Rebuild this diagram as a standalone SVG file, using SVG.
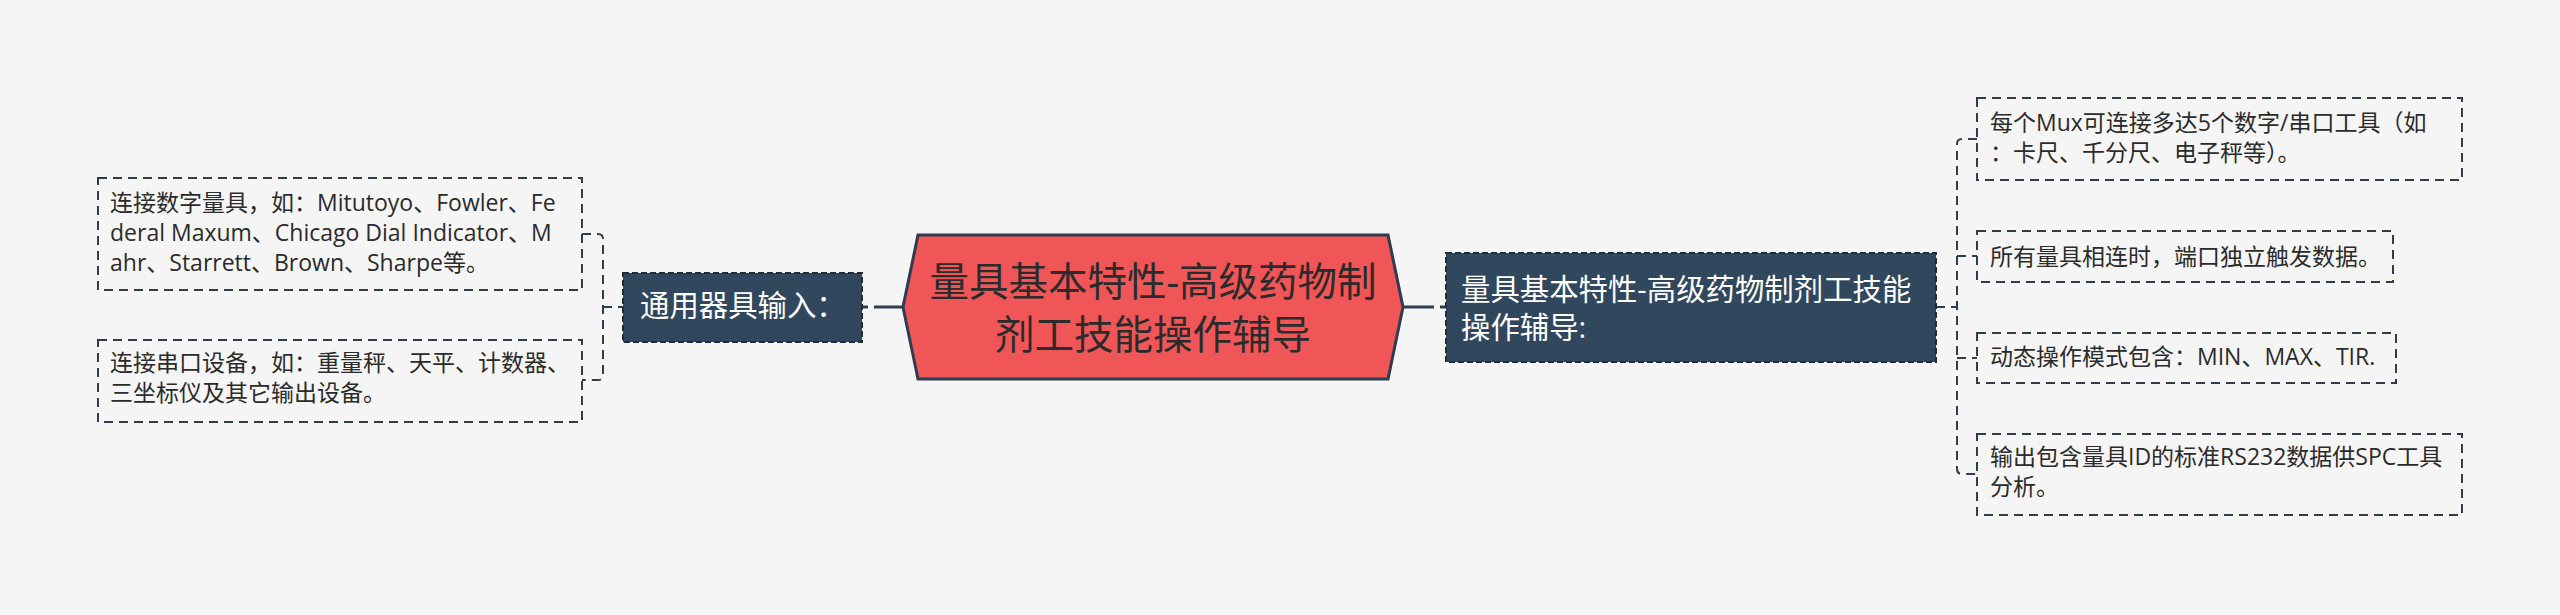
<svg xmlns="http://www.w3.org/2000/svg" width="2560" height="615" viewBox="0 0 2560 615">
<style>
.bg{fill:#f5f5f5}
.t{font-family:"Open Sans","Noto Sans CJK SC",sans-serif}
.detail rect{fill:none;stroke:#2f3b48;stroke-width:2;stroke-dasharray:9 6}
.detail text{font-size:23px;fill:#2b2b2b}
.lvl1 rect{fill:#30475e;stroke:#1f2d3b;stroke-width:2;stroke-dasharray:6 3}
.lvl1 text{font-size:29.4px;fill:#ffffff}
.conn{fill:none;stroke:#2f3e4e;stroke-width:2;stroke-dasharray:9 6}
.solid{fill:none;stroke:#2f3e4e;stroke-width:3}
</style>
<rect class="bg" x="0" y="0" width="2560" height="615"/>
<g id="connectors">
<path class="solid" d="M874,307 H903"/>
<path class="solid" d="M862,307 H868"/>
<path class="solid" d="M1403,307 H1434"/>
<path class="solid" d="M1440,307 H1446"/>
<path class="conn" d="M582,234 H598 Q603,234 603,239 V375 Q603,380 598,380 H582"/>
<path class="conn" d="M603,307 H623"/>
<path class="conn" d="M1977,139 H1962 Q1957,139 1957,144 V469 Q1957,474 1962,474 H1977"/>
<path class="conn" d="M1957,256 H1977"/>
<path class="conn" d="M1957,358 H1977"/>
<path class="conn" d="M1936,307 H1957"/>
</g>
<g id="central">
<polygon points="918,235 1388,235 1403,307 1388,379 918,379 903,307" fill="#f05557" stroke="#2c3d50" stroke-width="3"/>
<text class="t" x="1153" y="296" font-size="39.5" fill="#2b2b2b" text-anchor="middle">量具基本特性-高级药物制</text>
<text class="t" x="1153" y="349" font-size="39.5" fill="#2b2b2b" text-anchor="middle">剂工技能操作辅导</text>
</g>
<g id="left-topic" class="lvl1">
<rect x="623" y="273" width="239" height="69"/>
<text class="t" x="640" y="316">通用器具输入：</text>
</g>
<g id="right-topic" class="lvl1">
<rect x="1446" y="253" width="490" height="109"/>
<text class="t" x="1461" y="300">量具基本特性-高级药物制剂工技能</text>
<text class="t" x="1461" y="338">操作辅导:</text>
</g>
<g id="left-detail-1" class="detail">
<rect x="98" y="178" width="484" height="112"/>
<text class="t" x="110" y="211">连接数字量具，如：Mitutoyo、Fowler、Fe</text>
<text class="t" x="110" y="241">deral Maxum、Chicago Dial Indicator、M</text>
<text class="t" x="110" y="271">ahr、Starrett、Brown、Sharpe等。</text>
</g>
<g id="left-detail-2" class="detail">
<rect x="98" y="340" width="484" height="82"/>
<text class="t" x="110" y="371">连接串口设备，如：重量秤、天平、计数器、</text>
<text class="t" x="110" y="401">三坐标仪及其它输出设备。</text>
</g>
<g id="right-detail-1" class="detail">
<rect x="1977" y="98" width="485" height="82"/>
<text class="t" x="1990" y="131">每个Mux可连接多达5个数字/串口工具（如</text>
<text class="t" x="1990" y="161">：卡尺、千分尺、电子秤等）。</text>
</g>
<g id="right-detail-2" class="detail">
<rect x="1977" y="231" width="416" height="51"/>
<text class="t" x="1990" y="265">所有量具相连时，端口独立触发数据。</text>
</g>
<g id="right-detail-3" class="detail">
<rect x="1977" y="333" width="419" height="50"/>
<text class="t" x="1990" y="365">动态操作模式包含：MIN、MAX、TIR.</text>
</g>
<g id="right-detail-4" class="detail">
<rect x="1977" y="434" width="485" height="81"/>
<text class="t" x="1990" y="465">输出包含量具ID的标准RS232数据供SPC工具</text>
<text class="t" x="1990" y="495">分析。</text>
</g>
</svg>
